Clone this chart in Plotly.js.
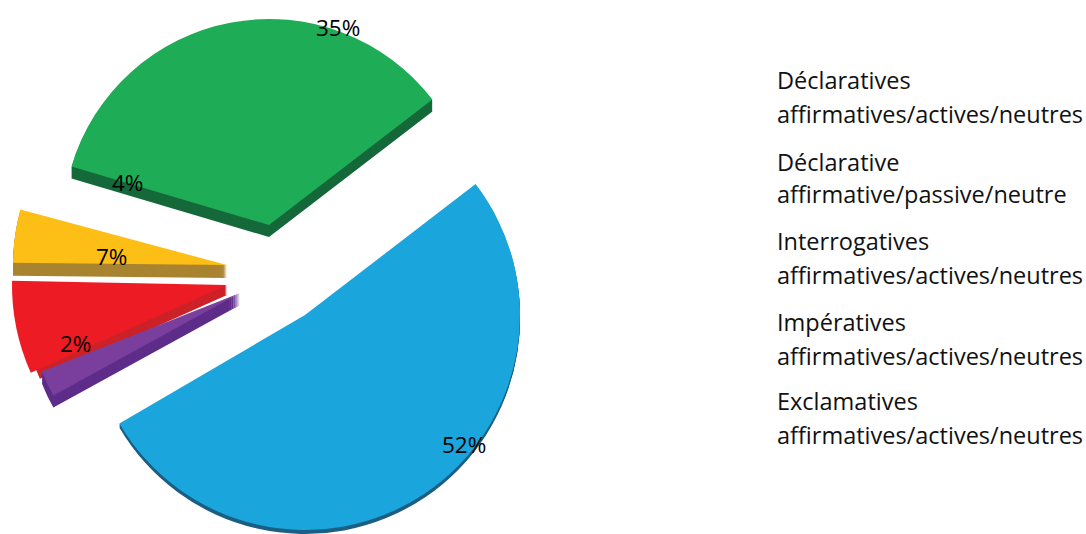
<!DOCTYPE html>
<html><head><meta charset="utf-8">
<script src="https://cdn.plot.ly/plotly-3.0.1.min.js"></script>
<style>html,body{margin:0;padding:0;background:#fff;overflow:hidden;width:1086px;height:534px}#wrap{width:1086px;height:534px;overflow:hidden}</style>
</head><body><div id="wrap"><div id="chart"></div></div>
<script>
// Data, clockwise from the blue slice
const sliceNames = ["Exclamatives","Impératives","Interrogatives","Déclarative","Déclaratives"];
const sliceValues = [52, 2, 7, 4, 35];
const topColors = ["#1ba5dd","#7a3f9d","#ed1c24","#fdbe16","#1fac56"];
const sideColors = ["#1d5f82","#5e2d8a","#cd2229","#a98430","#15693a"];
const pctLabels = ["52%","2%","7%","4%","35%"];
const legendLines = ["Déclaratives","affirmatives/actives/neutres","Déclarative","affirmative/passive/neutre","Interrogatives","affirmatives/actives/neutres","Impératives","affirmatives/actives/neutres","Exclamatives","affirmatives/actives/neutres"];

// Exploded-slice geometry in pixels
const apexX = [305,240,227,227,269];
const apexY = [315,293,285,265,225];
const radius = [215,213,215,214,206];
const sideRadius = [215,213,205,214,206];
const depth = [4,12,10,13,12];
const rotationDeg = [52.5,54,51.5,51,52.5];
const drawOrder = [0,4,3,2,1];
const pctX = [464,75,111,127,338];
const pctY = [444,343,257,183,27];
const legendRows = [80,114,162,194,241,275,322,356,401,435];

const W=1086,H=560;
function slice(i,shift,r,color){
  const colors=sliceValues.map((_,k)=>k===i?color:'rgba(0,0,0,0)');
  return {type:'pie',values:sliceValues,labels:sliceNames,sort:false,direction:'clockwise',rotation:rotationDeg[i],
    textinfo:'none',hoverinfo:'skip',showlegend:false,
    marker:{colors:colors,line:{width:0}},
    domain:{x:[(apexX[i]-r)/W,(apexX[i]+r)/W],y:[1-(apexY[i]+shift+r)/H,1-(apexY[i]+shift-r)/H]}};
}
const traces=[];
drawOrder.forEach(i=>{for(let d=depth[i];d>=1;d--)traces.push(slice(i,d,sideRadius[i],sideColors[i]));});
drawOrder.forEach(i=>traces.push(slice(i,0,radius[i],topColors[i])));
const ann=[];
pctLabels.forEach((t,i)=>ann.push({text:t,x:pctX[i]/W,y:1-pctY[i]/H,xref:'paper',yref:'paper',xanchor:'center',yanchor:'middle',showarrow:false,font:{family:'"Open Sans", sans-serif',size:22.5,color:'#000'}}));
legendLines.forEach((t,i)=>ann.push({text:t,x:776/W,y:1-legendRows[i]/H,xref:'paper',yref:'paper',xanchor:'left',yanchor:'middle',showarrow:false,xshift:-1,font:{family:'"Open Sans", sans-serif',size:23.5,color:'#111'}}));
Plotly.newPlot('chart',traces,{width:W,height:H,margin:{l:0,r:0,t:0,b:0},paper_bgcolor:'#fff',annotations:ann},{displayModeBar:false,staticPlot:true});
</script></body></html>
